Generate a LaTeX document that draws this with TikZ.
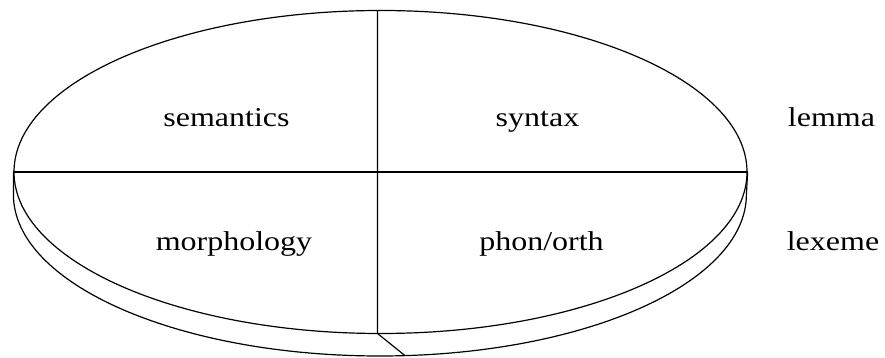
\documentclass[tikz,border=0pt]{standalone}
\usepackage{fontspec}
\setmainfont{Liberation Serif}
\usetikzlibrary{shapes.geometric}
\begin{document}
\begin{tikzpicture}[x=1pt,y=1pt,
  line/.style={line width=1.2pt,black},
  lbl/.style={anchor=base,inner sep=0pt,font=\fontsize{32}{36}\selectfont}]
\useasboundingbox (0,0) rectangle (885,358);
% top face of the disk
\node[ellipse,line,draw,inner sep=0pt,minimum width=733pt,minimum height=323pt] (top) at (380.5,186) {};
% bottom rim of the disk
\draw[line] (top.west) -- ++(0,-22.5) coordinate (lw)
  arc[start angle=180,end angle=360,x radius=366.5pt,y radius=161.5pt] coordinate (le)
  -- (top.east);
% dividing lines
\coordinate (vt) at (377.5,347.5);
\coordinate (vb) at (377.5,24.5);
\coordinate (rb) at (405,2.4);
\draw[line] (top.west) -- (top.east);
\draw[line] (vt) -- (vb) -- (rb);
% labels
\node[lbl] (sem) at (226.5,231) {\scalebox{1}[0.85]{semantics}};
\node[lbl] (syn) at (537.5,231) {\scalebox{1}[0.85]{syntax}};
\node[lbl] (lem) at (831.5,231) {\scalebox{1}[0.85]{lemma}};
\node[lbl] (mor) at (234,107) {\scalebox{1}[0.85]{morphology}};
\node[lbl] (pho) at (541.5,107) {\scalebox{1}[0.85]{phon/orth}};
\node[lbl] (lex) at (833,107) {\scalebox{1}[0.85]{lexeme}};
\end{tikzpicture}
\end{document}
